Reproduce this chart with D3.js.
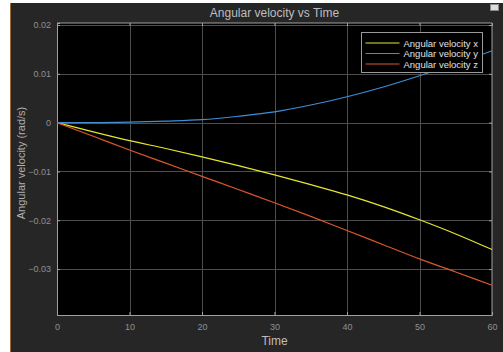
<!DOCTYPE html>
<html lang="en">
<head>
    <meta charset="UTF-8">
    <title>Angular velocity vs Time</title>
    <script src="https://d3js.org/d3.v7.min.js"></script>
    <style>
        body {
            margin: 0;
            background: #ffffff;
            overflow: hidden;
        }
        svg text {
            font-family: 'Liberation Sans', Arial, sans-serif;
        }
    </style>
</head>
<body>
    <div id="chart"></div>
    <script>
        // time samples and the three series
        const time = [0, 5, 10, 15, 20, 25, 30, 35, 40, 45, 50, 55, 60];
        const omegaX = [0, -0.0019, -0.0037, -0.0053, -0.0070, -0.0088, -0.0107, -0.0127, -0.0148, -0.0172, -0.0199, -0.0228, -0.0260];
        const omegaY = [0, 0.0000, 0.0001, 0.0003, 0.0006, 0.0013, 0.0022, 0.0036, 0.0053, 0.0073, 0.0096, 0.0121, 0.0147];
        const omegaZ = [0, -0.0028, -0.0056, -0.0083, -0.0110, -0.0137, -0.0164, -0.0192, -0.0221, -0.0250, -0.0279, -0.0306, -0.0333];
        const seriesNames = ["Angular velocity x", "Angular velocity y", "Angular velocity z"];
        const seriesColors = ["#e6e62e", "#3c8fd6", "#d9582b"];
        const xTicks = [0, 10, 20, 30, 40, 50, 60];
        const yTicks = [0.02, 0.01, 0, -0.01, -0.02, -0.03];

        const width = 503, height = 352;
        const margin = { top: 23, right: 11, bottom: 37, left: 57 };

        const svg = d3.select("#chart").append("svg")
            .attr("width", width)
            .attr("height", height);

        // figure panel
        svg.append("rect")
            .attr("x", 10).attr("y", 3)
            .attr("width", width - 10).attr("height", height - 3)
            .attr("fill", "#262626");
        svg.append("line")
            .attr("x1", 10.5).attr("x2", 10.5)
            .attr("y1", 3).attr("y2", height)
            .attr("stroke", "#9a6a34").attr("stroke-width", 1);

        // little export icon top right
        svg.append("rect")
            .attr("x", 490.5).attr("y", 4.5).attr("width", 8).attr("height", 6)
            .attr("fill", "#ddd").attr("stroke", "#888");

        const x = d3.scaleLinear()
            .domain([0, 60])
            .range([margin.left, width - margin.right]);

        const y = d3.scaleLinear()
            .domain([-0.0394, 0.0204])
            .range([height - margin.bottom, margin.top]);

        // plot background
        svg.append("rect")
            .attr("x", x(0)).attr("y", y(0.0204))
            .attr("width", x(60) - x(0))
            .attr("height", y(-0.0394) - y(0.0204))
            .attr("fill", "#000");

        // grid
        svg.append("g")
            .selectAll("line.vg")
            .data(xTicks.slice(1, -1))
            .enter().append("line")
            .attr("x1", d => Math.round(x(d)) + 0.5).attr("x2", d => Math.round(x(d)) + 0.5)
            .attr("y1", y(0.0204)).attr("y2", y(-0.0394))
            .attr("stroke", "#4d4d4d");
        svg.append("g")
            .selectAll("line.hg")
            .data(yTicks)
            .enter().append("line")
            .attr("x1", x(0)).attr("x2", x(60))
            .attr("y1", d => Math.round(y(d)) + 0.5).attr("y2", d => Math.round(y(d)) + 0.5)
            .attr("stroke", "#4d4d4d");

        // axes
        const xAxis = svg.append("g")
            .attr("transform", `translate(0,${height - margin.bottom})`)
            .call(d3.axisBottom(x).tickValues(xTicks).tickSize(-3).tickPadding(9).tickFormat(d3.format("d")));
        const yAxis = svg.append("g")
            .attr("transform", `translate(${margin.left},0)`)
            .call(d3.axisLeft(y).tickValues(yTicks).tickSize(-3).tickPadding(6)
                .tickFormat(d => d === 0 ? "0" : d3.format(".2~f")(d)));

        [xAxis, yAxis].forEach(a => {
            a.select(".domain").attr("stroke", "#a0a0a0");
            a.selectAll(".tick line").attr("stroke", "#a0a0a0");
            a.selectAll(".tick text").attr("fill", "#909090").style("font-size", "9px");
        });

        // top and right box, with the mirrored tick marks
        svg.append("path")
            .attr("d", `M${x(0)},${y(0.0204)}H${x(60)}V${y(-0.0394)}`)
            .attr("fill", "none").attr("stroke", "#a0a0a0");
        svg.append("g")
            .attr("transform", `translate(0,${margin.top})`)
            .call(d3.axisTop(x).tickValues(xTicks).tickSize(-3).tickFormat(""))
            .call(g => g.select(".domain").remove())
            .selectAll(".tick line").attr("stroke", "#a0a0a0");
        svg.append("g")
            .attr("transform", `translate(${width - margin.right},0)`)
            .call(d3.axisRight(y).tickValues(yTicks).tickSize(-3).tickFormat(""))
            .call(g => g.select(".domain").remove())
            .selectAll(".tick line").attr("stroke", "#a0a0a0");

        // lines
        const line = d3.line()
            .x(d => x(d[0]))
            .y(d => y(d[1]))
            .curve(d3.curveMonotoneX);

        [omegaX, omegaY, omegaZ].forEach((vals, i) => {
            svg.append("path")
                .datum(time.map((t, j) => [t, vals[j]]))
                .attr("d", line)
                .attr("fill", "none")
                .attr("stroke", seriesColors[i])
                .attr("stroke-width", 1.2);
        });

        // title and labels
        svg.append("text")
            .attr("x", (x(0) + x(60)) / 2).attr("y", 17)
            .attr("text-anchor", "middle")
            .attr("fill", "#bdbdbd")
            .style("font-size", "12px")
            .text("Angular velocity vs Time");

        svg.append("text")
            .attr("x", (x(0) + x(60)) / 2).attr("y", 345)
            .attr("text-anchor", "middle")
            .attr("fill", "#bdbdbd")
            .style("font-size", "12px")
            .text("Time");

        svg.append("text")
            .attr("transform", "translate(25,163) rotate(-90)")
            .attr("text-anchor", "middle")
            .attr("fill", "#b0b0b0")
            .style("font-size", "11px")
            .text("Angular velocity (rad/s)");

        // legend
        const legend = svg.append("g").attr("transform", "translate(361.5,32.5)");
        legend.append("rect")
            .attr("width", 121).attr("height", 40)
            .attr("fill", "#000").attr("stroke", "#9a9a9a");
        seriesNames.forEach((name, i) => {
            const ly = 10.5 + i * 10.5;
            legend.append("line")
                .attr("x1", 4).attr("x2", 38)
                .attr("y1", ly).attr("y2", ly)
                .attr("stroke", seriesColors[i]).attr("stroke-width", 1.2);
            legend.append("text")
                .attr("x", 42).attr("y", ly + 3.5)
                .attr("fill", "#e0e0e0")
                .style("font-size", "9.5px")
                .text(name);
        });
    </script>
</body>
</html>
